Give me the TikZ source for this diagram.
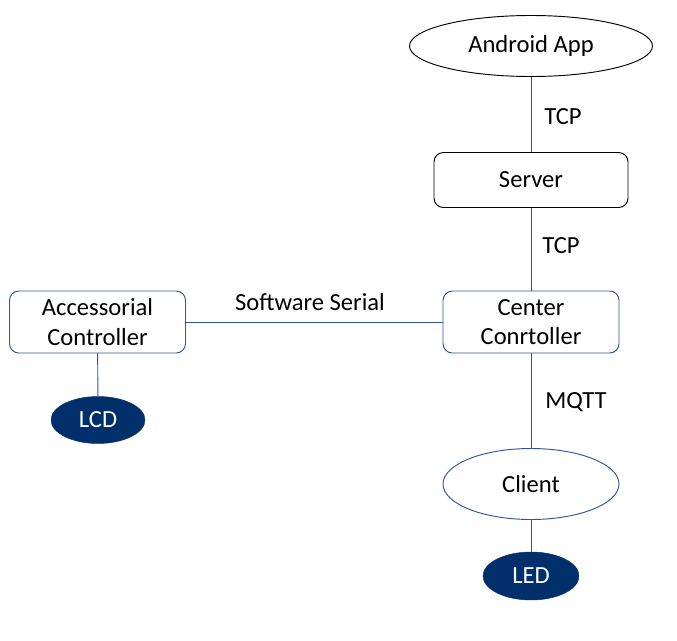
\documentclass[tikz,border=0pt]{standalone}
\usepackage{fontspec}
\setmainfont{Carlito}
\usetikzlibrary{shapes.geometric}
\definecolor{LineBlue}{RGB}{47, 85, 151}
\definecolor{NavyFill}{RGB}{0, 47, 108}

\begin{document}
\begin{tikzpicture}[x=0.03cm, y=-0.03cm, font=\fontsize{21}{25}\selectfont, box/.style={draw=LineBlue, thick, rounded corners=8pt, minimum width=176*0.03cm, minimum height=62*0.03cm, align=center, inner sep=1pt}, oval/.style={draw=LineBlue, thick, ellipse, minimum width=176*0.03cm, minimum height=71*0.03cm}, dot/.style={ellipse, fill=NavyFill, draw=NavyFill, text=white, minimum width=94*0.03cm, minimum height=47*0.03cm, inner sep=0pt}, ln/.style={LineBlue, thick}]
\useasboundingbox (0,0) rectangle (677,640);
\node[oval, draw=black, minimum width=243*0.03cm, minimum height=61*0.03cm] (app) at (531,46) {Android App};
\node[box, draw=black, minimum width=194*0.03cm, minimum height=55*0.03cm] (server) at (531,180) {Server};
\node[box] (center) at (531,322) {Center\\Conrtoller};
\node[box] (acc) at (97.5,322) {Accessorial\\Controller};
\node[dot] (lcd) at (98,420) {LCD};
\node[oval] (client) at (531,484) {Client};
\node[dot, minimum width=96*0.03cm, minimum height=48*0.03cm] (led) at (531,576) {LED};
\draw[ln] (app) -- (server); \draw[ln] (server) -- (center); \draw[ln] (acc) -- (center); \draw[ln] (center) -- (client); \draw[ln] (acc) -- (lcd); \draw[ln] (client) -- (led);
\node (tcpa) at (563,117) {TCP};
\node (tcpb) at (561,246) {TCP};
\node (serial) at (310,302) {Software Serial};
\node (mqtt) at (576,402) {MQTT};
\end{tikzpicture}
\end{document}
